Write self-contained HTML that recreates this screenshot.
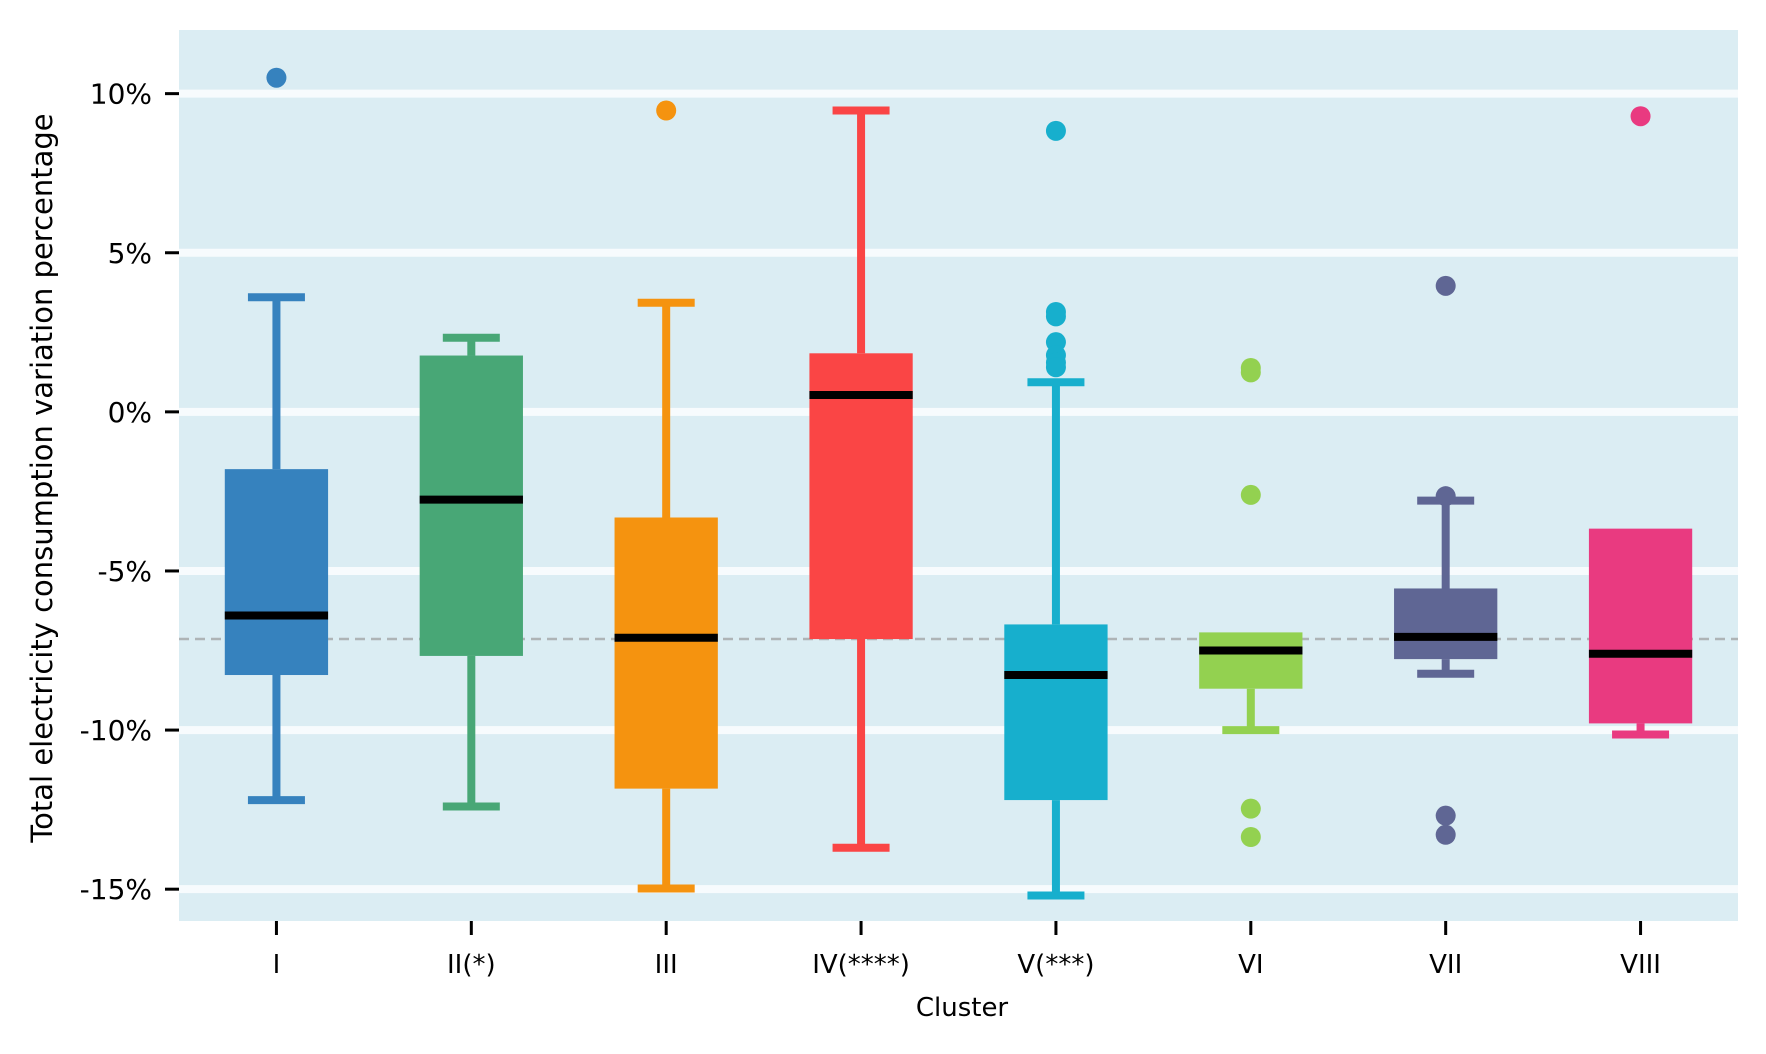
<!DOCTYPE html>
<html><head><meta charset="utf-8">
<style>
html,body{margin:0;padding:0;background:#fff;}
svg{display:block;font-family:"DejaVu Sans","Liberation Sans",sans-serif;}
</style></head>
<body>
<svg id="chart" width="1766" height="1054" viewBox="0 0 1766 1054" xmlns="http://www.w3.org/2000/svg">
<rect x="179" y="30" width="1559" height="891" fill="#dbedf3"/>
<g id="grid"></g>
<g id="boxes"></g>
<g id="axes"></g>
<text x="962" y="1016" font-size="26" text-anchor="middle">Cluster</text>
<text x="0" y="0" font-size="29" text-anchor="middle" transform="translate(52,478) rotate(-90)">Total electricity consumption variation percentage</text>
</svg>
<script>
const categories = ["I","II(*)","III","IV(****)","V(***)","VI","VII","VIII"];
const colors = ["#3682be","#48a776","#f5930f","#fa4545","#17afcd","#93d150","#5f6694","#e93a80"];
const whiskerHigh = [3.6, 2.33, 3.43, 9.47, 0.93, -6.93, -2.79, -3.67];
const q3 = [-1.8, 1.77, -3.32, 1.84, -6.68, -6.93, -5.55, -3.67];
const median = [-6.4, -2.76, -7.1, 0.53, -8.27, -7.5, -7.07, -7.6];
const q1 = [-8.27, -7.67, -11.84, -7.14, -12.2, -8.7, -7.77, -9.79];
const whiskerLow = [-12.2, -12.4, -14.98, -13.7, -15.2, -10.0, -8.23, -10.14];
const outliers = [[10.5],[],[9.47],[],[8.83,3.14,3.0,2.19,1.78,1.55,1.4],[1.38,1.24,-2.61,-12.47,-13.36],[3.96,-2.65,-12.69,-13.29],[9.29]];
const yTicks = [10,5,0,-5,-10,-15];
const yTickLabels = ["10%","5%","0%","-5%","-10%","-15%"];
const refLine = -7.14;

const NS="http://www.w3.org/2000/svg";
const X0=179, X1=1738, Y0=30, Y1=921, YMIN=-16, YMAX=12;
const step=(X1-X0)/categories.length;
function xs(i){return X0+step*(i+0.5);}
function ys(v){return Y0+(YMAX-v)/(YMAX-YMIN)*(Y1-Y0);}
function mk(tag,attrs,parent){const e=document.createElementNS(NS,tag);for(const k in attrs)e.setAttribute(k,attrs[k]);parent.appendChild(e);return e;}
const grid=document.getElementById('grid'), boxes=document.getElementById('boxes'), axes=document.getElementById('axes');

yTicks.forEach((t,i)=>{
  const g=mk('line',{x1:X0,x2:X1,y1:ys(t),y2:ys(t),stroke:'#f7fbfd','stroke-width':8},grid);
  
  
  const tk=mk('line',{x1:X0-14,x2:X0,y1:ys(t),y2:ys(t),stroke:'#000','stroke-width':3},axes);
  
  
  const lb=mk('text',{x:X0-27,y:ys(t)+10,'font-size':28,'text-anchor':'end'},axes);
  lb.textContent=yTickLabels[i];
  
  
});
const rl=mk('line',{x1:X0,x2:X1,y1:ys(refLine),y2:ys(refLine),stroke:'#aeb4b6','stroke-width':2.5,'stroke-dasharray':'10 6'},grid);



const bw=step*0.53, cw=57;
categories.forEach((c,i)=>{
  const x=xs(i), col=colors[i];
  const g=mk('g',{},boxes);
  
  
  mk('line',{x1:x,x2:x,y1:ys(whiskerHigh[i]),y2:ys(q3[i]),stroke:col,'stroke-width':8},g);
  mk('line',{x1:x,x2:x,y1:ys(q1[i]),y2:ys(whiskerLow[i]),stroke:col,'stroke-width':8},g);
  if (whiskerHigh[i] > q3[i]) mk('line',{x1:x-cw/2,x2:x+cw/2,y1:ys(whiskerHigh[i]),y2:ys(whiskerHigh[i]),stroke:col,'stroke-width':8},g);
  mk('line',{x1:x-cw/2,x2:x+cw/2,y1:ys(whiskerLow[i]),y2:ys(whiskerLow[i]),stroke:col,'stroke-width':8},g);
  mk('rect',{x:x-bw/2,y:ys(q3[i]),width:bw,height:ys(q1[i])-ys(q3[i]),fill:col},g);
  mk('line',{x1:x-bw/2,x2:x+bw/2,y1:ys(median[i]),y2:ys(median[i]),stroke:'#000','stroke-width':8},g);
  outliers[i].forEach((v,j)=>{
    const o=mk('circle',{cx:x,cy:ys(v),r:10,fill:col},g);
    
    
  });
  const tk=mk('line',{x1:x,x2:x,y1:Y1,y2:Y1+14,stroke:'#000','stroke-width':3},axes);
  
  
  const lb=mk('text',{x:x,y:Y1+52,'font-size':26,'text-anchor':'middle'},axes);
  lb.textContent=c;
  
  
});
</script>
</body></html>
